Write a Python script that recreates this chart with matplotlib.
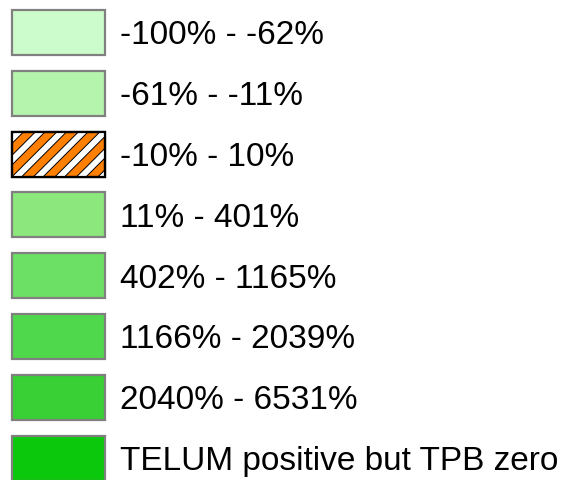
import numpy as np
import matplotlib
matplotlib.use("Agg")
import matplotlib.pyplot as plt
import matplotlib.patches as mpatches
import matplotlib.patheffects as pe

plt.rcParams["font.family"] = ["Liberation Sans", "DejaVu Sans"]

# legend classes (top to bottom)
labels = [
    "-100% - -62%",
    "-61% - -11%",
    "-10% - 10%",
    "11% - 401%",
    "402% - 1165%",
    "1166% - 2039%",
    "2040% - 6531%",
    "TELUM positive but TPB zero",
]
colors = ["#ccfccc", "#b4f4ac", "#ff8000", "#8ce87c", "#6ce064",
          "#50d84c", "#38d034", "#0cc80c"]
hatched = [False, False, True, False, False, False, False, False]

W, H = 567, 480
fig = plt.figure(figsize=(W / 100, H / 100), dpi=100)
ax = fig.add_axes([0, 0, 1, 1])
ax.set_xlim(0, W)
ax.set_ylim(H, 0)
ax.axis("off")

box_x, box_w, box_h = 12, 93, 45
row0, step = 10, 60.8

for i, (lab, col, hat) in enumerate(zip(labels, colors, hatched)):
    top = row0 + step * i
    if hat:
        rect = mpatches.Rectangle((box_x, top), box_w, box_h, facecolor=col,
                                  edgecolor="black", linewidth=1.6, zorder=3)
        ax.add_patch(rect)
        # white diagonal stripes with thin black edges, clipped to the box
        clip = mpatches.Rectangle((box_x, top), box_w, box_h,
                                  transform=ax.transData)
        period = 21.5
        for k in range(-3, 8):
            x0 = box_x + k * period
            ln, = ax.plot([x0, x0 + box_h + 10], [top + box_h + 5, top - 5],
                          color="white", linewidth=4.2, zorder=3.5,
                          solid_capstyle="butt")
            ln.set_path_effects([pe.Stroke(linewidth=5.6, foreground="black"),
                                 pe.Normal()])
            ln.set_clip_path(clip)
        ax.add_patch(mpatches.Rectangle((box_x, top), box_w, box_h,
                                        facecolor="none", edgecolor="black",
                                        linewidth=1.6, zorder=4))
    else:
        ax.add_patch(mpatches.Rectangle((box_x, top), box_w, box_h,
                                        facecolor=col, edgecolor="#808080",
                                        linewidth=1.6, zorder=3))
    ax.text(120, top + box_h / 2 + 12, lab, fontsize=24, color="black",
            va="baseline", ha="left")

fig.savefig("out.png", dpi=100)
